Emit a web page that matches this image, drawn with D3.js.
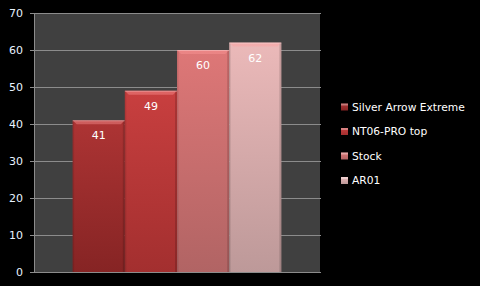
<!DOCTYPE html>
<html>
<head>
<meta charset="utf-8">
<script src="https://cdn.jsdelivr.net/npm/d3@7"></script>
<style>
  html, body { margin: 0; padding: 0; background: #000; }
  svg { display: block; }
</style>
</head>
<body>
<svg id="chart" width="480" height="286" viewBox="0 0 480 286"></svg>
<script>
// chart data
const series_names = ["Silver Arrow Extreme", "NT06-PRO top", "Stock", "AR01"];
const series_values = [41, 49, 60, 62];
const tick_values = [0, 10, 20, 30, 40, 50, 60, 70];

// top / bottom shades of each bar
const top_colors = ["#ad3434", "#c83f3f", "#de7777", "#ebb9b9"];
const bottom_colors = ["#862424", "#a32f2f", "#b16464", "#bd9999"];

const svg = d3.select("#chart");
const margin = {left: 34, right: 160, top: 13, bottom: 14};
const width = 480 - margin.left - margin.right;
const height = 286 - margin.top - margin.bottom;

const defs = svg.append("defs");
series_names.forEach((name, i) => {
	const grad = defs.append("linearGradient")
		.attr("id", "grad" + i)
		.attr("x1", 0).attr("y1", 0).attr("x2", 0).attr("y2", 1);
	grad.append("stop").attr("offset", "0%").attr("stop-color", top_colors[i]);
	grad.append("stop").attr("offset", "100%").attr("stop-color", bottom_colors[i]);
});

const y = d3.scaleLinear().domain([0, 70]).range([height, 0]);
// one category, bars side by side
const x = d3.scaleBand().domain(series_names).range([0, width]).paddingOuter(0.74).paddingInner(0);

const g = svg.append("g").attr("transform", `translate(${margin.left},${margin.top})`);

g.append("rect")
	.attr("width", width).attr("height", height)
	.attr("fill", "#404040");

// gridlines
g.selectAll(".grid")
	.data(tick_values.filter(d => d > 0))
	.enter().append("line")
	.attr("x1", 0).attr("x2", width + 1)
	.attr("y1", d => Math.round(y(d)) + 0.5).attr("y2", d => Math.round(y(d)) + 0.5)
	.attr("stroke", "#8c8c8c").attr("stroke-width", 1);

// bars
const bars = g.selectAll(".bar")
	.data(series_values)
	.enter().append("g");

bars.append("rect")
	.attr("x", (d, i) => x(series_names[i]))
	.attr("y", d => y(d))
	.attr("width", x.bandwidth())
	.attr("height", d => height - y(d))
	.attr("fill", (d, i) => `url(#grad${i})`);

// darker side edges
bars.append("rect")
	.attr("x", (d, i) => x(series_names[i]) + x.bandwidth() - 2)
	.attr("y", d => y(d))
	.attr("width", 2)
	.attr("height", d => height - y(d))
	.attr("fill", "#000").attr("opacity", 0.15);
bars.append("rect")
	.attr("x", (d, i) => x(series_names[i]))
	.attr("y", d => y(d))
	.attr("width", 1.5)
	.attr("height", d => height - y(d))
	.attr("fill", "#000").attr("opacity", 0.1);

// bevel on top
bars.append("path")
	.attr("d", (d, i) => {
		const x0 = x(series_names[i]), x1 = x0 + x.bandwidth(), t = y(d);
		return `M${x0},${t}L${x1},${t}L${x1 - 4},${t + 4}L${x0 + 4},${t + 4}Z`;
	})
	.attr("fill", "#ff9a9a").attr("opacity", 0.4);
bars.append("rect")
	.attr("x", (d, i) => x(series_names[i]))
	.attr("y", d => y(d))
	.attr("width", x.bandwidth())
	.attr("height", 1)
	.attr("fill", "#fff").attr("opacity", 0.3);

// value labels
bars.append("text")
	.attr("x", (d, i) => x(series_names[i]) + x.bandwidth() / 2)
	.attr("y", d => y(d) + 19)
	.attr("text-anchor", "middle")
	.attr("fill", "#fff")
	.style("font-family", "DejaVu Sans, sans-serif")
	.style("font-size", "11px")
	.text(d => d);

// y axis
const yAxis = g.append("g")
	.call(d3.axisLeft(y).tickValues(tick_values).tickSize(4).tickPadding(7).tickSizeOuter(0));
yAxis.select(".domain").attr("stroke", "#8c8c8c");
yAxis.selectAll(".tick line").attr("stroke", "#8c8c8c");
yAxis.selectAll(".tick text")
	.attr("fill", "#e8f2ff")
	.style("font-family", "DejaVu Sans, sans-serif")
	.style("font-size", "11px");

// bottom axis line
g.append("line")
	.attr("x1", 0).attr("x2", width + 1)
	.attr("y1", height + 0.5).attr("y2", height + 0.5)
	.attr("stroke", "#8c8c8c");

// legend
const legend = svg.append("g").attr("transform", "translate(341,107)");
const items = legend.selectAll(".item")
	.data(series_names)
	.enter().append("g")
	.attr("transform", (d, i) => `translate(0,${i * 24.5})`);
items.append("rect")
	.attr("x", 0).attr("y", -3.5).attr("width", 7).attr("height", 7)
	.attr("fill", (d, i) => `url(#grad${i})`);
items.append("rect")
	.attr("x", 0).attr("y", -3.5).attr("width", 7).attr("height", 2)
	.attr("fill", "#fff").attr("opacity", 0.35);
items.append("text")
	.attr("x", 11).attr("y", 0).attr("dy", "0.35em")
	.attr("fill", "#fff")
	.style("font-family", "DejaVu Sans, sans-serif")
	.style("font-size", "10.7px")
	.text(d => d);
</script>
</body>
</html>
